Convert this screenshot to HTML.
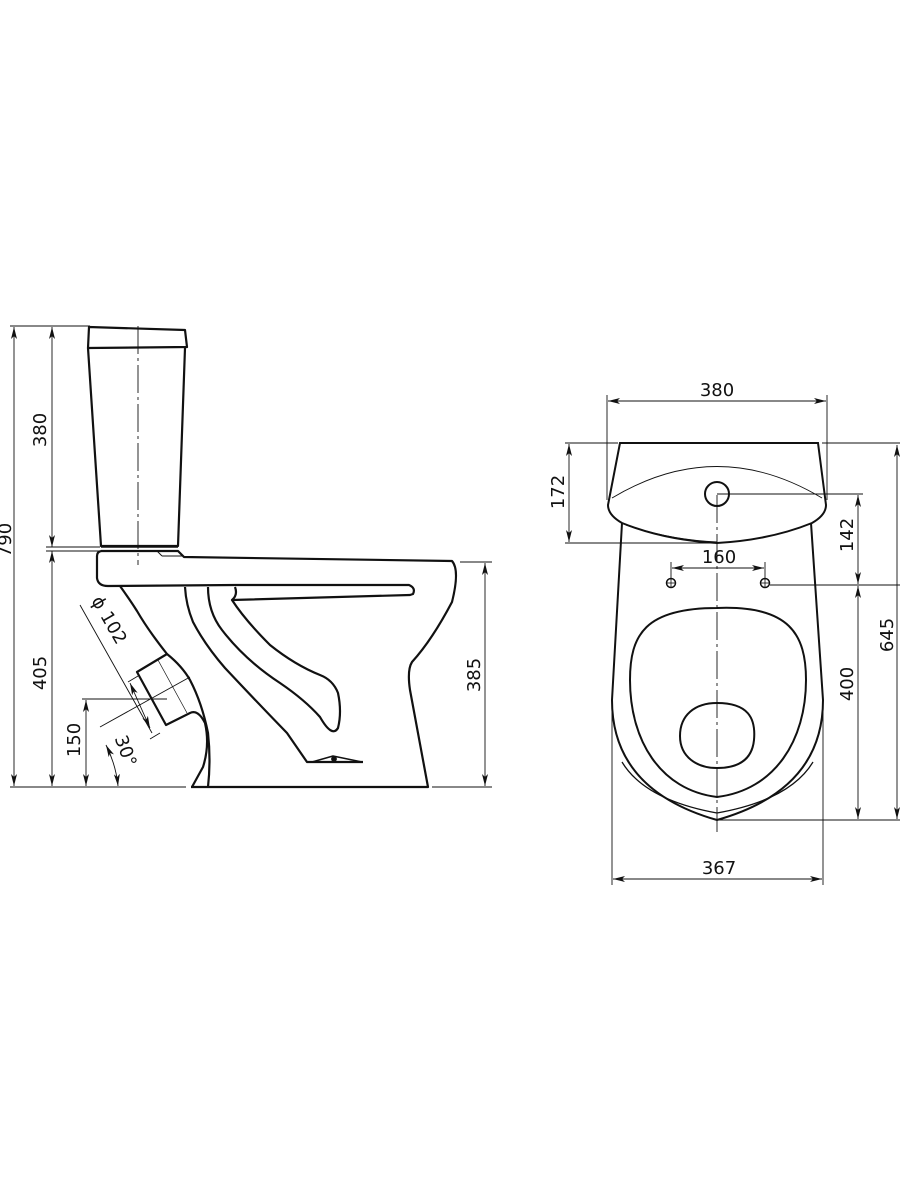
<!DOCTYPE html>
<html><head><meta charset="utf-8"><style>
html,body{margin:0;padding:0;background:#fff}
svg{display:block}
text{font-family:"DejaVu Sans","Liberation Sans",sans-serif;font-size:18px;fill:#111}
</style></head><body>
<svg width="900" height="1200" viewBox="0 0 900 1200" xmlns="http://www.w3.org/2000/svg">
<defs>
<marker id="a" viewBox="0 0 12 6" refX="12" refY="3" markerWidth="12" markerHeight="6" orient="auto-start-reverse" markerUnits="userSpaceOnUse">
<path d="M0,0 L12,3 L0,6 L3,3 Z" fill="#111"/></marker>
</defs>
<g stroke="#111" fill="none" stroke-width="0.9">
<line x1="10" y1="326" x2="90" y2="326"/>
<line x1="10" y1="787" x2="186" y2="787"/>
<line x1="46" y1="547" x2="100" y2="547"/>
<line x1="46" y1="551" x2="100" y2="551"/>
<line x1="14" y1="327" x2="14" y2="786" marker-start="url(#a)" marker-end="url(#a)"/>
<line x1="52" y1="327" x2="52" y2="547" marker-start="url(#a)" marker-end="url(#a)"/>
<line x1="52" y1="551" x2="52" y2="786" marker-start="url(#a)" marker-end="url(#a)"/>
<line x1="460" y1="562" x2="492" y2="562"/>
<line x1="432" y1="787" x2="492" y2="787"/>
<line x1="485" y1="563" x2="485" y2="786" marker-start="url(#a)" marker-end="url(#a)"/>
<line x1="80" y1="605" x2="152" y2="733"/>
<line x1="128" y1="682" x2="138" y2="676"/>
<line x1="150" y1="739" x2="160" y2="733" />
<path d="M130,683 L150,728" marker-start="url(#a)" marker-end="url(#a)"/>
<line x1="82" y1="699" x2="167" y2="699"/>
<line x1="86" y1="700" x2="86" y2="786" marker-start="url(#a)" marker-end="url(#a)"/>
<line x1="100" y1="727" x2="190" y2="677"/>
<path d="M106,745 Q116,765 118,786" marker-start="url(#a)" marker-end="url(#a)"/>
<line x1="138" y1="326" x2="138" y2="565" stroke-dasharray="28,4,3,4"/>
<line x1="158" y1="660" x2="187" y2="713" stroke-width="0.7"/>
</g>
<g stroke="#111" fill="none" stroke-width="2.2" stroke-linejoin="round">
<path d="M89,327 L185,330 L187,347 L88,348 Z"/>
<path d="M88,348 L101,546 L178,546 L185,348"/>
<line x1="101" y1="547" x2="178" y2="547" stroke-width="1.5"/>
<path d="M101,551 L178,551 L184,557 L452,561 Q460,570 452,602 Q432,640 412,662 Q407,670 410,690 L428,787 L191,787"/>
<path d="M101,551 Q97,552 97,556 L97,578 Q98,586 108,586 L236,585 L409,585 Q416,588 413,594 L410,595 L232,600"/>
<line x1="157" y1="551" x2="162" y2="556" stroke-width="1"/>
<line x1="162" y1="556" x2="182" y2="556" stroke-width="1"/>
<path d="M120,586 Q130,600 137,611 Q148,630 167,654 L137,672 L166,725 L190,713 Q198,709 205,723 Q210,745 203,767 L192,787"/>
<path d="M167,654 Q182,666 190,680 Q202,703 208,733 Q211,760 208,787"/>
<path d="M185,587 Q186,605 193,622 Q205,645 225,668 Q255,700 287,733 L307,762 L363,762"/>
<path d="M312,762 L333,756 L362,762" stroke-width="1.5"/>
<circle cx="334" cy="759" r="1.8" fill="#111"/>
<path d="M208,587 Q208,612 222,630 Q245,660 280,683 Q305,700 320,717 Q332,738 338,728 Q342,712 338,693 Q333,680 320,675 Q295,665 270,645 Q245,620 232,600 Q238,595 235,587"/>
</g>
<g stroke="#111" fill="none" stroke-width="0.9">
<line x1="607" y1="395" x2="607" y2="500"/>
<line x1="827" y1="395" x2="827" y2="500"/>
<line x1="608" y1="401" x2="826" y2="401" marker-start="url(#a)" marker-end="url(#a)"/>
<line x1="565" y1="443" x2="618" y2="443"/>
<line x1="822" y1="443" x2="900" y2="443"/>
<line x1="565" y1="543" x2="717" y2="543"/>
<line x1="569" y1="444" x2="569" y2="542" marker-start="url(#a)" marker-end="url(#a)"/>
<line x1="717" y1="494" x2="863" y2="494"/>
<line x1="770" y1="585" x2="900" y2="585"/>
<line x1="717" y1="820" x2="900" y2="820"/>
<line x1="858" y1="495" x2="858" y2="584" marker-start="url(#a)" marker-end="url(#a)"/>
<line x1="858" y1="586" x2="858" y2="819" marker-start="url(#a)" marker-end="url(#a)"/>
<line x1="897" y1="445" x2="897" y2="819" marker-start="url(#a)" marker-end="url(#a)"/>
<line x1="671" y1="562" x2="671" y2="580"/>
<line x1="765" y1="562" x2="765" y2="580"/>
<line x1="672" y1="568" x2="764" y2="568" marker-start="url(#a)" marker-end="url(#a)"/>
<line x1="612" y1="700" x2="612" y2="885"/>
<line x1="823" y1="700" x2="823" y2="885"/>
<line x1="613" y1="879" x2="822" y2="879" marker-start="url(#a)" marker-end="url(#a)"/>
<line x1="717" y1="495" x2="717" y2="832" stroke-dasharray="28,4,3,4"/>
<path d="M612,498 Q717,435 822,498"/>
</g>
<g stroke="#111" fill="none" stroke-width="2">
<path d="M620,443 L818,443 L826,505 Q826,515 812,523 Q770,540 717,543 Q664,540 622,523 Q608,515 608,505 Z"/>
<circle cx="717" cy="494" r="12"/>
<path d="M622,523 L612,700 Q612,790 717,820 Q823,790 823,700 L811,523"/>
<path d="M626,525 Q670,540 717,542" stroke-width="1"/>
<path d="M622,762 Q645,800 717,813 Q790,800 813,762" stroke-width="1.3"/>
<path d="M717,608 C790,605 806,635 806,680 C806,740 775,790 717,797 C660,790 630,740 630,680 C630,635 645,608 717,608 Z"/>
<path d="M717,703 C748,703 756,718 754,740 C752,760 738,768 717,768 C697,768 680,757 680,736 C680,715 695,703 717,703 Z"/>
<circle cx="671" cy="583" r="4.5" stroke-width="1.5"/>
<circle cx="765" cy="583" r="4.5" stroke-width="1.5"/>
</g>
<g stroke="#111" stroke-width="0.8">
<line x1="666" y1="583" x2="676" y2="583"/><line x1="671" y1="578" x2="671" y2="588"/>
<line x1="760" y1="583" x2="770" y2="583"/><line x1="765" y1="578" x2="765" y2="588"/>
</g>
<text transform="translate(11,540) rotate(-90)" text-anchor="middle">790</text>
<text transform="translate(46,430) rotate(-90)" text-anchor="middle">380</text>
<text transform="translate(46,673) rotate(-90)" text-anchor="middle">405</text>
<text transform="translate(80,740) rotate(-90)" text-anchor="middle">150</text>
<text transform="translate(480,675) rotate(-90)" text-anchor="middle">385</text>
<text transform="translate(104,623) rotate(60)" text-anchor="middle">ϕ 102</text>
<text transform="translate(120,753) rotate(70)" text-anchor="middle">30°</text>
<text x="717" y="396" text-anchor="middle">380</text>
<text transform="translate(564,492) rotate(-90)" text-anchor="middle">172</text>
<text transform="translate(853,535) rotate(-90)" text-anchor="middle">142</text>
<text transform="translate(853,684) rotate(-90)" text-anchor="middle">400</text>
<text transform="translate(893,635) rotate(-90)" text-anchor="middle">645</text>
<text x="719" y="563" text-anchor="middle">160</text>
<text x="719" y="874" text-anchor="middle">367</text>
</svg>
</body></html>
